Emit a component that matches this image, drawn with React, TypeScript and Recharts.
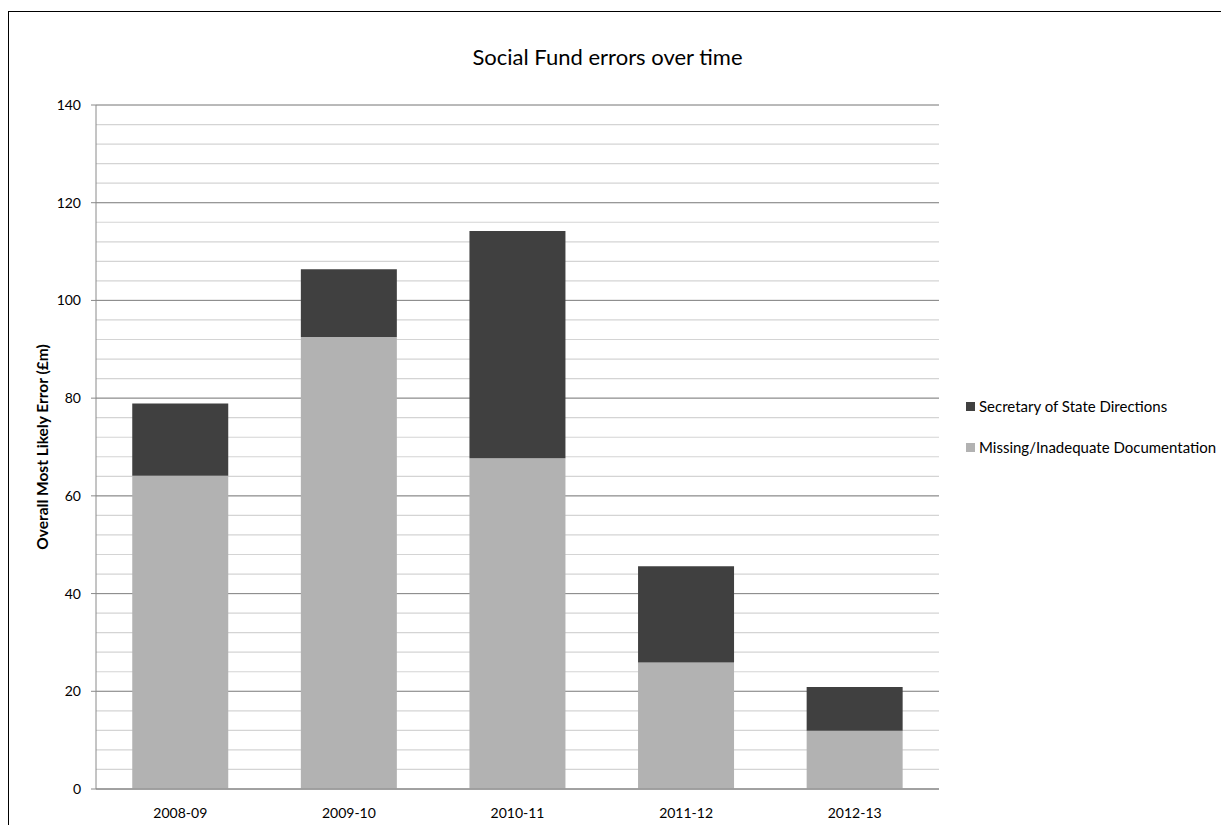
import React from "react";
import {
  BarChart,
  Bar,
  XAxis,
  YAxis,
  CartesianGrid,
  Legend,
  Label,
} from "recharts";

const years = ["2008-09", "2009-10", "2010-11", "2011-12", "2012-13"];
const missingDocs = [64.1, 92.5, 67.7, 25.9, 11.9];
const sosDirections = [14.8, 13.9, 46.5, 19.7, 9.0];
const majorTicks = [0, 20, 40, 60, 80, 100, 120, 140];
const minorTicks = Array.from({ length: 36 }, (_, i) => i * 4);

const seriesNames = {
  missing: "Missing/Inadequate Documentation",
  sos: "Secretary of State Directions",
};
const colors = { missing: "#b2b2b2", sos: "#404040" };

const data = years.map((year, i) => ({
  year,
  missing: missingDocs[i],
  sos: sosDirections[i],
}));

const font = "Lato, 'Open Sans', sans-serif";

function LegendBox() {
  // top series of the stack listed first
  const items: ("sos" | "missing")[] = ["sos", "missing"];
  return (
    <div style={{ fontFamily: font, fontSize: 15, color: "#000" }}>
      {items.map((k) => (
        <div
          key={k}
          style={{ display: "flex", alignItems: "center", height: 20, marginBottom: 21, whiteSpace: "nowrap" }}
        >
          <span
            style={{ width: 9, height: 9, background: colors[k], display: "inline-block", marginRight: 4 }}
          />
          {seriesNames[k]}
        </div>
      ))}
    </div>
  );
}

export default function App() {
  return (
    <div
      style={{
        position: "fixed",
        left: 8,
        top: 11,
        width: 1260,
        height: 840,
        border: "1.5px solid #000",
        background: "#fff",
      }}
    >
      <div
        style={{
          position: "absolute",
          left: 0,
          width: 1197,
          top: 31,
          textAlign: "center",
          fontFamily: font,
          fontSize: 22,
          color: "#000",
        }}
      >
        Social Fund errors over time
      </div>
      <BarChart
        width={1260}
        height={830}
        data={data}
        barCategoryGap="21.5%"
        margin={{ top: 93, right: 330, left: 0, bottom: 23 }}
      >
        <CartesianGrid yAxisId="minor" vertical={false} stroke="#d4d4d4" strokeWidth={1.2} />
        <CartesianGrid yAxisId="main" vertical={false} stroke="#8a8a8a" strokeWidth={1} />
        <XAxis
          dataKey="year"
          height={30}
          tickLine={false}
          axisLine={{ stroke: "#8a8a8a" }}
          tick={{ fill: "#000", fontSize: 14, fontFamily: font }}
          tickMargin={13}
        />
        <YAxis
          yAxisId="minor"
          hide
          domain={[0, 140]}
          ticks={minorTicks}
          interval={0}
          allowDataOverflow
        />
        <YAxis
          yAxisId="main"
          width={87}
          domain={[0, 140]}
          ticks={majorTicks}
          interval={0}
          tickSize={5}
          tickMargin={10}
          axisLine={{ stroke: "#8a8a8a" }}
          tickLine={{ stroke: "#8a8a8a" }}
          tick={{ fill: "#000", fontSize: 14, fontFamily: font }}
        >
          <Label
            value="Overall Most Likely Error (£m)"
            angle={-90}
            position="insideLeft"
            offset={33}
            style={{ textAnchor: "middle", fontWeight: 700, fontSize: 15.5, fontFamily: font, fill: "#000" }}
          />
        </YAxis>
        <Legend
          layout="vertical"
          verticalAlign="middle"
          align="center"
          wrapperStyle={{ left: 957, top: 384, width: 300 }}
          content={() => <LegendBox />}
        />
        <Bar
          yAxisId="main"
          dataKey="missing"
          name={seriesNames.missing}
          stackId="a"
          fill={colors.missing}
          isAnimationActive={false}
        />
        <Bar
          yAxisId="main"
          dataKey="sos"
          name={seriesNames.sos}
          stackId="a"
          fill={colors.sos}
          isAnimationActive={false}
        />
      </BarChart>
    </div>
  );
}
